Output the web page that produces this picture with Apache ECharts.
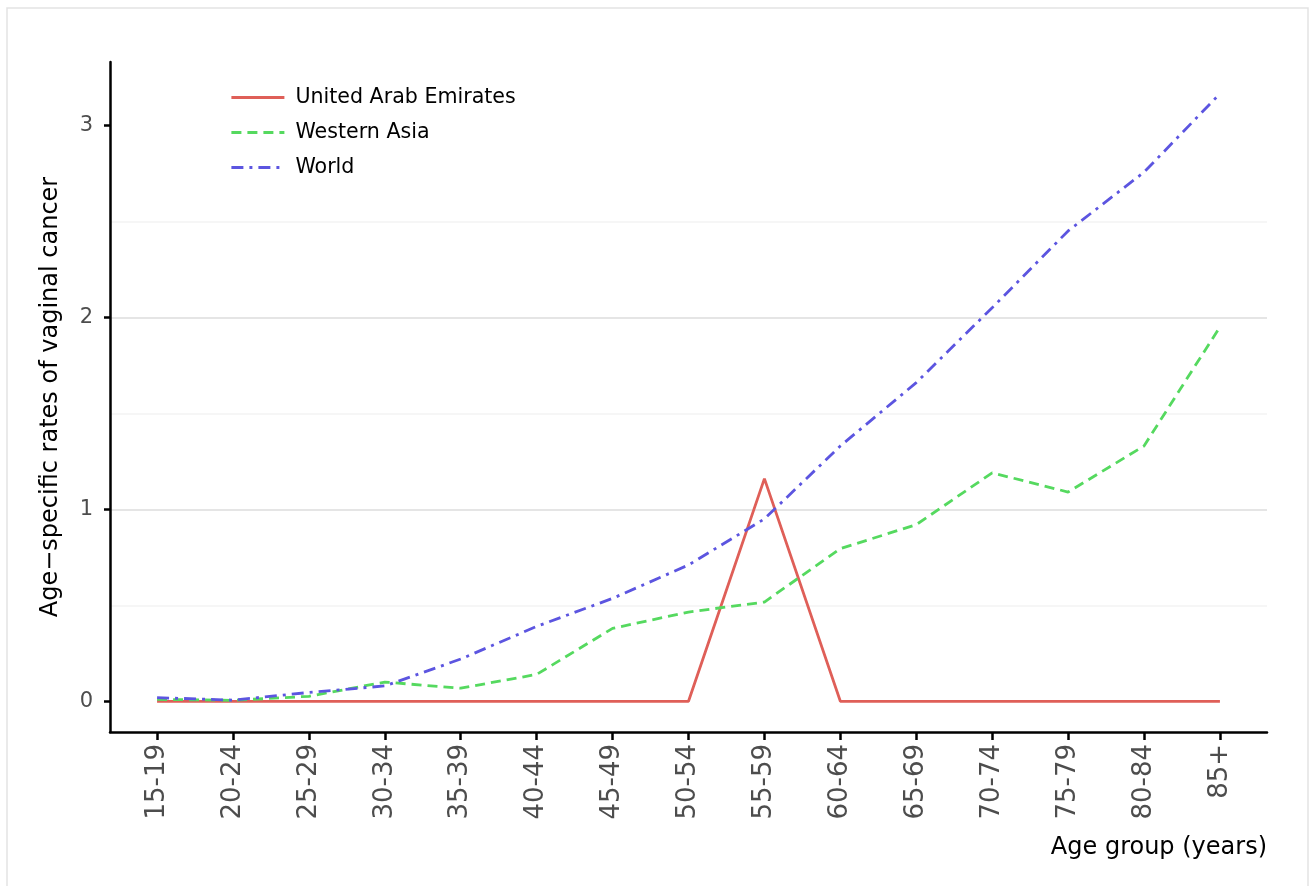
<!DOCTYPE html>
<html>
<head>
<meta charset="utf-8">
<script src="https://cdn.jsdelivr.net/npm/echarts@6/dist/echarts.min.js"></script>
<style>html,body{margin:0;padding:0;background:#fff}#c{width:1309px;height:886px}</style>
</head>
<body>
<div id="c"></div>
<script>
const categories = ['15-19','20-24','25-29','30-34','35-39','40-44','45-49','50-54','55-59','60-64','65-69','70-74','75-79','80-84','85+'];
const seriesNames = ['United Arab Emirates','Western Asia','World'];
const uae = [0,0,0,0,0,0,0,0,1.16,0,0,0,0,0,0];
const westernAsia = [0.01,0.005,0.026,0.10,0.068,0.14,0.38,0.465,0.517,0.795,0.92,1.19,1.09,1.33,1.95];
const world = [0.019,0.006,0.046,0.08,0.22,0.39,0.536,0.71,0.95,1.33,1.66,2.05,2.45,2.756,3.165];
const yTicks = [0,1,2,3];
const xTicks = categories.map((c, i) => i);

const FONT = 'DejaVu Sans';
const chart = echarts.init(document.getElementById('c'), null, {renderer: 'canvas'});
const toPairs = arr => arr.map((v, i) => [i, v]);

chart.setOption({
  animation: false,
  backgroundColor: '#ffffff',
  graphic: [{
    type: 'rect', silent: true, z: -10,
    shape: {x: 7, y: 8, width: 1301, height: 900},
    style: {fill: 'none', stroke: '#e3e3e3', lineWidth: 1.5}
  }],
  grid: {left: 110, right: 42, top: 62, bottom: 154, containLabel: false},
  legend: {
    orient: 'vertical', left: 230, top: 87, padding: 0,
    itemWidth: 53, itemHeight: 20, itemGap: 14,
    data: seriesNames,
    itemStyle: {color: 'rgba(0,0,0,0)', borderWidth: 0, opacity: 0},
    lineStyle: {width: 2.8},
    textStyle: {fontFamily: FONT, fontSize: 20.6, color: '#000', padding: [0, 0, 0, 6]}
  },
  xAxis: {
    type: 'value', min: -0.62, max: 14.62,
    axisLine: {show: true, onZero: false, lineStyle: {color: '#000', width: 2.5}},
    axisTick: {show: true, length: 8, customValues: xTicks, lineStyle: {color: '#000', width: 2.5}},
    axisLabel: {
      customValues: xTicks, rotate: 90, margin: 12, color: '#4d4d4d',
      fontFamily: FONT, fontSize: 26,
      formatter: v => categories[Math.round(v)]
    },
    splitLine: {show: false},
    name: 'Age group (years)', nameLocation: 'end', nameGap: 0,
    nameTextStyle: {fontFamily: FONT, fontSize: 24, color: '#000', align: 'right', verticalAlign: 'top', padding: [104, 0, 0, 0]}
  },
  yAxis: {
    type: 'value', min: -0.16, max: 3.33, minInterval: 1, maxInterval: 1,
    axisLine: {show: true, onZero: false, lineStyle: {color: '#000', width: 2.5}},
    axisTick: {show: true, length: 6, customValues: yTicks, lineStyle: {color: '#000', width: 2.5}},
    axisLabel: {customValues: yTicks, margin: 17, color: '#4d4d4d', fontFamily: FONT, fontSize: 21},
    splitLine: {show: true, showMinLine: false, showMaxLine: false, lineStyle: {color: '#e5e5e5', width: 2}},
    minorTick: {show: false, splitNumber: 2},
    minorSplitLine: {show: true, lineStyle: {color: '#f6f6f6', width: 2}},
    name: 'Age\u2212specific rates of vaginal cancer', nameLocation: 'middle', nameGap: 47,
    nameTextStyle: {fontFamily: FONT, fontSize: 24, color: '#000'}
  },
  series: [
    {name: seriesNames[0], type: 'line', symbol: 'none', data: toPairs(uae),
     itemStyle: {color: '#df5f58'}, lineStyle: {color: '#df5f58', width: 2.8, type: 'solid'}},
    {name: seriesNames[1], type: 'line', symbol: 'none', data: toPairs(westernAsia),
     itemStyle: {color: '#55d95f'}, lineStyle: {color: '#55d95f', width: 2.8, type: [10, 6]}},
    {name: seriesNames[2], type: 'line', symbol: 'none', data: toPairs(world),
     itemStyle: {color: '#5c55e0'}, lineStyle: {color: '#5c55e0', width: 2.8, type: [12, 6, 3, 6]}}
  ]
});
</script>
</body>
</html>
